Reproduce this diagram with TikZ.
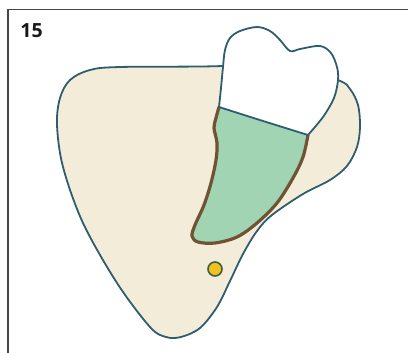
\documentclass[tikz,border=0pt]{standalone}
\usepackage{fontspec}
\setmainfont{Open Sans}
\definecolor{bonefill}{RGB}{243,236,216}
\definecolor{edge}{RGB}{46,93,112}
\definecolor{rootfill}{RGB}{160,212,178}
\definecolor{rootedge}{RGB}{112,82,52}
\definecolor{nervefill}{RGB}{240,194,30}
\definecolor{nerveedge}{RGB}{60,92,76}
\definecolor{framecol}{RGB}{70,70,70}
\begin{document}
\begin{tikzpicture}[x=1pt,y=-1pt]
\useasboundingbox (0,0) rectangle (408,353);
% frame and number
\path[draw=framecol,line width=1.6pt] (8,353) -- (8,9.5) -- (408,9.5);
\node[font=\bfseries\fontsize{19.5}{20}\selectfont, text=black!90] (num) at (31.5,30.5) {15};

% jaw section
\path[fill=bonefill,draw=edge,line width=1.8pt] plot[smooth cycle, tension=0.55] coordinates {
  (338,80) (350,89) (358,105) (360,127) (357,147) (347,166) (330,180) (303,194)
  (272,215) (257,231) (243,254) (230,281) (217,307) (200,328) (181,337) (166,337)
  (150,327) (117,283) (83,223) (63,167) (57,125) (60,98) (70,80) (90,70) (120,67)
  (222,66) (280,60)};

% root
\path[fill=rootfill] plot[smooth, tension=0.55] coordinates {
  (219,107) (216,118) (214,128) (217,143) (216,160) (211,183) (204,205) (195,225)
  (192,236) (198,242) (215,243) (237,237) (257,223) (277,203) (293,178) (303,157) (308,135)}
  -- (263,121) -- cycle;
\path[draw=rootedge,line width=3.2pt,line cap=round] plot[smooth, tension=0.55] coordinates {
  (219,107) (216,118) (214,128) (217,143) (216,160) (211,183) (204,205) (195,225)
  (192,236) (198,242) (215,243) (237,237) (257,223) (277,203) (293,178) (303,157) (308,135)};

% crown
\path[fill=white,draw=edge,line width=1.8pt,line join=round]
  plot[smooth, tension=0.55] coordinates {
  (219,107) (221,88) (223,67) (225,50) (230,38) (240,31) (257,27) (270,31) (280,40)
  (290,51) (300,49) (320,46) (331,53) (337,67) (338,80) (334,98) (323,117) (308,135)}
  -- plot[smooth, tension=0.55] coordinates {(308,135) (263,121) (219,107)} -- cycle;

% nerve canal
\path[fill=nervefill,draw=nerveedge,line width=1.6pt] (215,269) circle[radius=7];
\end{tikzpicture}
\end{document}
